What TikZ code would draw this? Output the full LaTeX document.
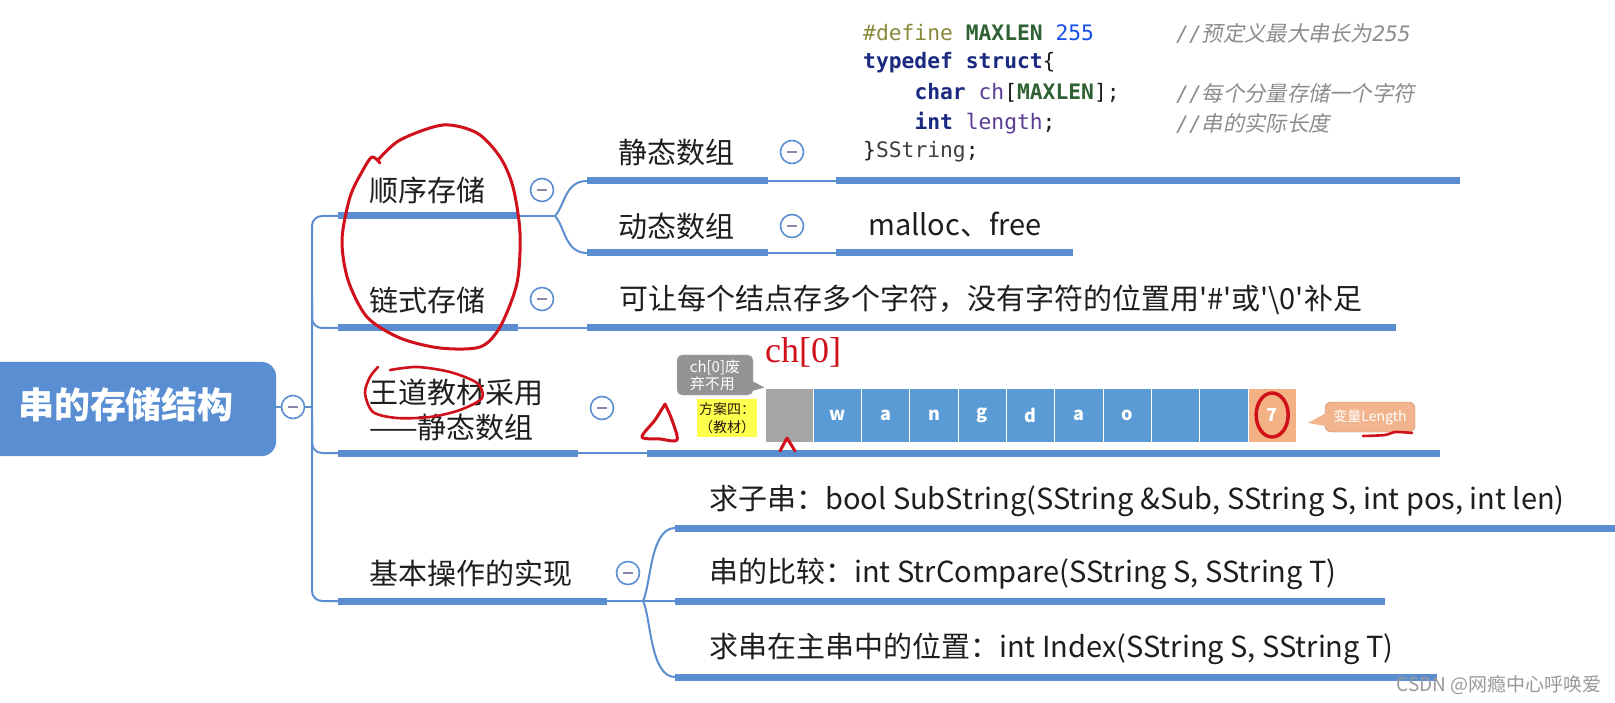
\documentclass[tikz,border=0pt]{standalone}
\usepackage{fontspec}
\setmainfont{Noto Sans CJK SC}[Ligatures=TeXOff]
\newfontfamily\codefont{DejaVu Sans Mono}
\newfontfamily\comcjk{Noto Sans CJK SC}[FakeSlant=0.2]
\newfontfamily\handfont{Liberation Serif}
\definecolor{lb}{HTML}{5B8ED0}
\definecolor{rootc}{HTML}{5A8ED2}
\definecolor{txt}{HTML}{1E1E1E}
\definecolor{minusc}{HTML}{8C87A8}
\definecolor{kw}{HTML}{1B2A80}
\definecolor{olive}{HTML}{8A8A3C}
\definecolor{macro}{HTML}{2E6234}
\definecolor{num}{HTML}{1750EB}
\definecolor{fld}{HTML}{5A3E96}
\definecolor{com}{HTML}{8C8C8C}
\definecolor{cgray}{HTML}{A6A6A6}
\definecolor{cblue}{HTML}{5B9BD5}
\definecolor{corange}{HTML}{F4B183}
\definecolor{redpen}{HTML}{D0101B}
\definecolor{peach}{HTML}{F2B48C}
\definecolor{yel}{HTML}{FFFF4D}
\begin{document}
\begin{tikzpicture}[x=1pt,y=-1pt,
  thinl/.style={draw=lb, line width=2pt},
  barl/.style={draw=lb, line width=7pt},
  minus/.style={circle, draw=lb, line width=1.6pt, fill=white, minimum size=23pt, inner sep=0pt,
    path picture={\draw[line width=1.6pt, minusc] ([xshift=-5pt]path picture bounding box.center) -- ([xshift=5pt]path picture bounding box.center);}},
  lvl/.style={font=\fontsize{29}{35}\selectfont, text=txt, inner sep=0pt, anchor=west, align=left},
  code/.style={font=\codefont\fontsize{21.3}{24}\selectfont, text=txt, inner sep=0pt, anchor=west},
  comm/.style={font=\codefont\itshape\fontsize{21.3}{24}\selectfont, text=com, inner sep=0pt, anchor=west},
  cell/.style={minimum width=48.3pt, minimum height=54pt, draw=white, line width=1pt, inner sep=0pt, text=white, font=\bfseries\fontsize{18}{20}\selectfont},
  pen/.style={draw=redpen, line width=3pt, line cap=round, line join=round}
]
\useasboundingbox (0,0) rectangle (1615,703);
\fill[white] (0,0) rectangle (1615,703);

% ---------- root ----------
\node[fill=rootc, rounded corners=14pt, minimum width=296pt, minimum height=94pt, inner sep=0pt] (rootbox) at (128,409) {};
\node[text=white, font=\bfseries\fontsize{36}{38}\selectfont, inner sep=0pt] (root) at (126,405) {串的存储结构};
\node[minus] (m0) at (293,407) {};
\coordinate (t0) at (312,407);
\draw[thinl] (rootbox.east |- m0) -- (m0);
\draw[thinl] (m0) -- (t0);

% ---------- trunk ----------
\coordinate (b1s) at (338,216); \coordinate (b1e) at (518,216);
\coordinate (b2s) at (338,328); \coordinate (b2e) at (518,328);
\coordinate (b3s) at (338,453); \coordinate (b3e) at (578,453);
\coordinate (b4s) at (338,601); \coordinate (b4e) at (607,601);
\draw[thinl, rounded corners=10pt] (b1s) -| (312,407) |- (b4s);
\draw[thinl, rounded corners=10pt] (312,300) |- (b2s);
\draw[thinl, rounded corners=10pt] (312,420) |- (b3s);
\foreach \s/\e in {b1s/b1e,b2s/b2e,b3s/b3e,b4s/b4e} \draw[barl] (\s) -- (\e);

% ---------- level 1 texts ----------
\node[lvl] (t1) at (369,190) {顺序存储};
\node[lvl] (t2) at (369,300) {链式存储};
\node[lvl] (t3) at (369,410) {王道教材采用\\——静态数组};
\node[lvl] (t4) at (369,573) {基本操作的实现};
\node[minus] (m1) at (542,190) {};
\node[minus] (m2) at (542,299) {};
\node[minus] (m3) at (602,408) {};
\node[minus] (m4) at (628,573) {};

% ---------- 顺序存储 children ----------
\coordinate (f1) at (555,216);
\coordinate (s1s) at (587,181); \coordinate (s1e) at (768,181);
\coordinate (s2s) at (587,253); \coordinate (s2e) at (768,253);
\coordinate (c1s) at (836,181); \coordinate (c1e) at (1460,181);
\coordinate (c2s) at (836,253); \coordinate (c2e) at (1073,253);
\draw[thinl] (b1e) -- (f1);
\draw[thinl] (f1) .. controls (565,205) and (565,181) .. (s1s);
\draw[thinl] (f1) .. controls (565,227) and (565,253) .. (s2s);
\draw[barl] (s1s) -- (s1e);
\draw[barl] (s2s) -- (s2e);
\draw[thinl] (s1e) -- (c1s);
\draw[thinl] (s2e) -- (c2s);
\draw[barl] (c1s) -- (c1e);
\draw[barl] (c2s) -- (c2e);
\node[lvl] (s1) at (618,152) {静态数组};
\node[lvl] (s2) at (618,226) {动态数组};
\node[minus] (m5) at (792,152) {};
\node[minus] (m6) at (792,226) {};
\node[lvl] (d1) at (868,225) {malloc、free};

% ---------- code ----------
\node[code] (k1) at (863,33) {\textcolor{olive}{\#define} \textcolor{macro}{\bfseries MAXLEN} \textcolor{num}{255}};
\node[code] (k2) at (863,63) {\textcolor{kw}{\bfseries typedef struct}\{};
\node[code] (k3) at (863,93) {\phantom{xxxx}\textcolor{kw}{\bfseries char} \textcolor{fld}{ch}[\textcolor{macro}{\bfseries MAXLEN}];};
\node[code] (k4) at (863,123) {\phantom{xxxx}\textcolor{kw}{\bfseries int} \textcolor{fld}{length};};
\node[code] (k5) at (863,152) {\}\textcolor{darkgray}{SString};};
\node[comm] (cm1) at (1176,33) {//{\comcjk 预定义最大串长为}255};
\node[comm] (cm3) at (1176,93) {//{\comcjk 每个分量存储一个字符}};
\node[comm] (cm4) at (1176,123) {//{\comcjk 串的实际长度}};

% ---------- 链式存储 child ----------
\coordinate (l1s) at (587,328); \coordinate (l1e) at (1396,328);
\draw[thinl] (b2e) -- (l1s);
\draw[barl] (l1s) -- (l1e);
\node[lvl] (d2) at (619,300) {可让每个结点存多个字符，没有字符的位置用'\#'或'\textbackslash0'补足};

% ---------- 王道 child ----------
\coordinate (w1s) at (647,453); \coordinate (w1e) at (1440,453);
\draw[thinl] (b3e) -- (w1s);
\draw[barl] (w1s) -- (w1e);

% array
\foreach \i/\c/\t in {0/cgray/,1/cblue/w,2/cblue/a,3/cblue/n,4/cblue/g,5/cblue/d,6/cblue/a,7/cblue/o,8/cblue/,9/cblue/,10/corange/7}
  \node[cell, fill=\c] (cell\i) at ({765+48.3*(\i+0.5)},415) {\t};

% callout ch[0]
\node[fill=gray!85!white, draw=gray!50, rounded corners=5pt, minimum width=76pt, minimum height=40pt, inner sep=2pt, text=white, font=\fontsize{15}{17}\selectfont, align=left] (co1) at (715,375) {ch[0]废\\弃不用};
\fill[gray!85!white] (745,393) -- (cell0.north west) -- (752,381) -- cycle;
% yellow label
\node[fill=yel, minimum width=60pt, minimum height=38pt, inner sep=1pt, text=black!80!brown, font=\fontsize{14}{18}\selectfont, align=center] (yl) at (727,418) {方案四：\\（教材）};
% Length callout
\node[fill=peach, draw=peach!80!black, rounded corners=6pt, minimum width=90pt, minimum height=30pt, inner sep=1pt, text=white, font=\fontsize{14}{15}\selectfont] (co2) at (1370,417) {变量Length};
\coordinate (tip2) at (1308,423);
\fill[peach] (1326,413) -- (tip2) -- (1326,426) -- cycle;

% ---------- 基本操作 children ----------
\coordinate (f4) at (643,601);
\coordinate (o1s) at (675,528); \coordinate (o1e) at (1620,528);
\coordinate (o2s) at (675,601); \coordinate (o2e) at (1385,601);
\coordinate (o3s) at (675,677); \coordinate (o3e) at (1437,677);
\draw[thinl] (b4e) -- (f4);
\draw[thinl] (f4) .. controls (651,585) and (650,528) .. (o1s);
\draw[thinl] (f4) -- (o2s);
\draw[thinl] (f4) .. controls (651,617) and (650,677) .. (o3s);
\draw[barl] (o1s) -- (o1e);
\draw[barl] (o2s) -- (o2e);
\draw[barl] (o3s) -- (o3e);
\node[lvl] (e1) at (709,501) {求子串：bool SubString(SString \&Sub, SString S, int pos, int len)};
\node[lvl] (e2) at (709,574) {串的比较：int StrCompare(SString S, SString T)};
\node[lvl] (e3) at (709,649) {求串在主串中的位置：int Index(SString S, SString T)};

% ---------- red pen annotations ----------
\draw[pen] plot[smooth] coordinates {(380,163) (372,157) (363,170) (350,197) (342,240) (348,280) (367,317) (400,338) (440,348) (480,347) (500,327) (517,283) (520,233) (513,187) (500,157) (477,133) (443,125) (400,140) (378,160)};
\draw[pen, line width=2.6pt] plot[smooth] coordinates {(378,367) (370,377) (365,393) (373,412) (397,418) (430,417) (460,410) (482,398) (477,383) (450,372) (417,367) (390,370)};
\draw[pen] plot[smooth] coordinates {(665,404) (655,420) (642,437) (660,439) (677,440) (672,420) (665,404)};
\node[text=redpen, font=\handfont\fontsize{36}{38}\selectfont, inner sep=0pt] (hand) at (803,352) {ch[0]};
\draw[pen] (780,451) -- (787,438) -- (795,451);
\draw[pen, line width=3.5pt] (cell10.center) ellipse [x radius=16pt, y radius=22pt];
\draw[pen, line width=2.6pt] plot[smooth] coordinates {(1363,436) (1385,435) (1395,432) (1412,433)};

% watermark
\node[anchor=east, text=gray!80, font=\fontsize{19}{21}\selectfont, inner sep=0pt] (wm) at (1602,685) {CSDN @网瘾中心呼唤爱};
\end{tikzpicture}
\end{document}
